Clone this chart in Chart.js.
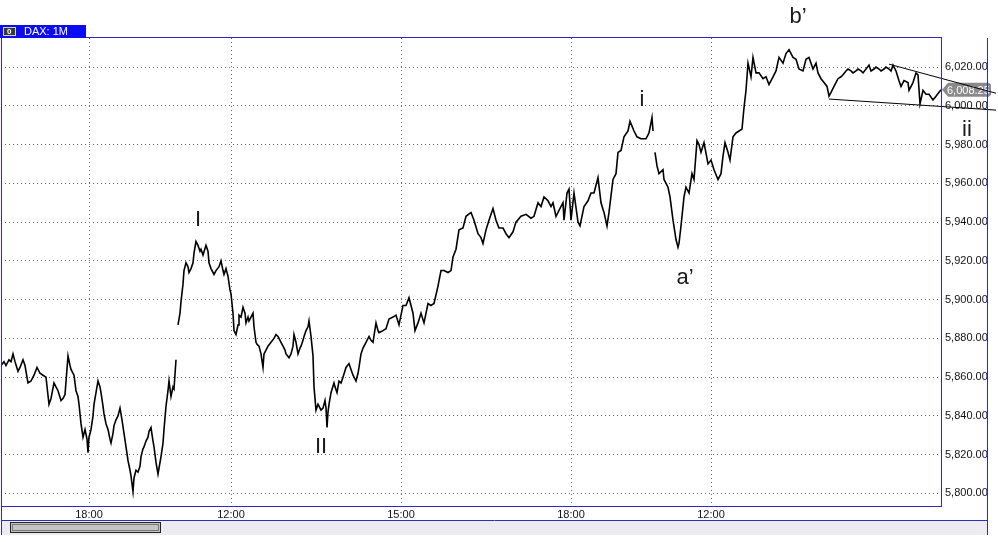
<!DOCTYPE html>
<html>
<head>
<meta charset="utf-8">
<script src="https://cdn.jsdelivr.net/npm/chart.js@4.4.1/dist/chart.umd.min.js"></script>
<style>
  html, body { margin: 0; padding: 0; background: #fff; }
  canvas { display: block; }
</style>
</head>
<body>
<canvas id="daxChart" width="998" height="542"></canvas>
<script>
// bar number (1-minute bars, gaps between sessions are null)
const bars = [
  0, 3, 5, 8, 10, 12, 14, 17, 19, 22,
  24, 27, 30, 33, 36, 39, 42, 45, 48, 50,
  53, 55, 57, 60, 62, 64, 67, 69, 70, 73,
  75, 77, 78, 80, 82, 84, 86, 87, 88, 90,
  92, 93, 95, 97, 99, 100, 102, 103, 105, 107,
  109, 110, 112, 113, 115, 117, 119, 121, 123, 125,
  127, 129, 130, 132, 133, 135, 137, 139, 140, 142,
  143, 145, 147, 148, 150, 152, 153, 155, 157, 158,
  160, 162, 163, 165, 167, 168, 170, 172, 173, 175,
  176, 177, 178, 179, 180, 182, 183, 185, 187, 188,
  190, 192, 193, 195, 197, 199, 200, 202, 205, 207,
  208, 210, 213, 215, 218, 220, 222, 223, 225, 227,
  229, 230, 232, 233, 235, 237, 238, 240, 242, 244,
  245, 247, 248, 250, 252, 253, 255, 256, 258, 260,
  262, 263, 265, 267, 270, 273, 275, 277, 278, 280,
  282, 284, 285, 288, 290, 292, 293, 295, 297, 299,
  300, 302, 303, 305, 307, 308, 310, 312, 313, 315,
  317, 318, 320, 322, 324, 325, 326, 327, 328, 330,
  333, 334, 336, 338, 340, 342, 345, 348, 350, 352,
  355, 357, 358, 360, 362, 365, 368, 370, 372, 375,
  377, 378, 382, 385, 388, 392, 395, 398, 402, 405,
  408, 412, 414, 417, 420, 423, 427, 430, 433, 437,
  440, 443, 447, 450, 452, 455, 458, 462, 465, 470,
  473, 477, 480, 482, 485, 488, 492, 495, 498, 502,
  505, 508, 512, 515, 520, 525, 530, 533, 537, 540,
  543, 547, 550, 552, 555, 558, 562, 563, 566, 568,
  570, 573, 577, 579, 583, 587, 590, 593, 597, 600,
  603, 606, 608, 612, 615, 617, 620, 623, 627, 629,
  633, 636, 640, 645, 648, 651, 652, 653, 654, 656,
  658, 662, 663, 667, 669, 672, 675, 677, 678, 680,
  683, 685, 688, 691, 693, 696, 698, 700, 703, 707,
  710, 713, 717, 720, 722, 724, 727, 729, 732, 735,
  738, 741, 743, 745, 747, 750, 752, 755, 758, 762,
  765, 768, 772, 775, 778, 782, 785, 788, 792, 795,
  798, 802, 805, 808, 812, 815, 817, 820, 823, 826,
  828, 830, 833, 837, 840, 842, 845, 847, 850, 852,
  855, 857, 860, 862, 865, 868, 870, 873, 875, 878,
  880, 883, 885, 888, 890, 892, 895, 898, 900, 903,
  907, 908, 912, 915, 917, 919, 922, 925, 928, 932,
  935, 938, 940
];
const prices = [
  5866, 5868, 5866, 5869, 5868, 5872, 5868, 5863, 5865, 5869,
  5866, 5857, 5858, 5861, 5865, 5862, 5861, 5860, 5846, 5849,
  5857, 5855, 5853, 5848, 5849, 5851, 5871, 5866, 5864, 5861,
  5853, 5850, 5846, 5836, 5829, 5833, 5828, 5821, 5829, 5833,
  5840, 5846, 5852, 5858, 5855, 5852, 5845, 5841, 5836, 5833,
  5828, 5826, 5831, 5835, 5838, 5840, 5844, 5838, 5831, 5824,
  5817, 5812, 5809, 5801, 5808, 5812, 5811, 5814, 5819, 5823,
  5824, 5827, 5829, 5832, 5834, 5827, 5824, 5816, 5810, 5813,
  5819, 5826, 5833, 5845, 5853, 5858, 5850, 5855, 5854, 5869,
  null, 5887, 5890, 5893, 5899, 5908, 5915, 5919, 5917, 5914,
  5916, 5919, 5924, 5930, 5928, 5925, 5926, 5923, 5928, 5925,
  5919, 5916, 5913, 5915, 5917, 5920, 5915, 5913, 5916, 5912,
  5905, 5903, 5893, 5884, 5882, 5887, 5892, 5891, 5896, 5893,
  5888, 5891, 5889, 5891, 5893, 5886, 5878, 5877, 5876, 5872,
  5865, 5872, 5874, 5876, 5878, 5880, 5882, 5881, 5880, 5878,
  5876, 5874, 5872, 5870, 5872, 5876, 5882, 5878, 5872, 5875,
  5876, 5879, 5881, 5884, 5886, 5889, 5881, 5871, 5855, 5843,
  5846, 5845, 5843, 5844, 5848, 5844, 5834, 5842, 5846, 5852,
  5857, 5855, 5852, 5858, 5857, 5860, 5865, 5867, 5864, 5861,
  5858, 5862, 5865, 5872, 5875, 5878, 5881, 5879, 5878, 5888,
  5884, 5883, 5884, 5885, 5890, 5891, 5892, 5887, 5897, 5897,
  5901, 5893, 5884, 5888, 5893, 5888, 5898, 5897, 5898, 5907,
  5915, 5915, 5914, 5915, 5922, 5926, 5936, 5937, 5943, 5945,
  5941, 5934, 5932, 5929, 5936, 5941, 5947, 5941, 5937, 5937,
  5934, 5932, 5935, 5940, 5943, 5944, 5942, 5943, 5950, 5948,
  5953, 5951, 5948, 5950, 5943, 5946, 5950, 5941, 5955, 5957,
  5941, 5955, 5940, 5938, 5948, 5951, 5955, 5955, 5963, 5950,
  5945, 5938, 5945, 5962, 5965, 5976, 5977, 5984, 5987, 5992,
  5987, 5984, 5983, 5983, 5986, 5994, 5987, null, 5976, 5969,
  5965, 5967, 5962, 5958, 5953, 5941, 5931, 5927, 5929, 5938,
  5953, 5958, 5955, 5965, 5962, 5982, 5980, 5976, 5981, 5970,
  5972, 5967, 5962, 5965, 5974, 5981, 5976, 5972, 5984, 5986,
  5987, 5988, 5999, 6008, 6022, 6015, 6025, 6017, 6017, 6014,
  6015, 6011, 6015, 6018, 6025, 6022, 6027, 6029, 6025, 6024,
  6019, 6018, 6024, 6025, 6019, 6022, 6017, 6014, 6012, 6010,
  6005, 6007, 6010, 6014, 6015, 6016, 6018, 6019, 6018, 6017,
  6018, 6019, 6018, 6017, 6019, 6021, 6018, 6019, 6020, 6019,
  6018, 6019, 6020, 6019, 6018, 6021, 6018, 6013, 6010, 6013,
  6012, 6008, 6012, 6017, 6016, 6001, 6008, 6006, 6006, 6003,
  6005, 6007, 6008.25
];
const lastPrice = 6008.25;

// triangle lines drawn on the chart
const upperLineBars = [888, 995];
const upperLinePrices = [6021.5, 6006.5];
const lowerLineBars = [828, 995];
const lowerLinePrices = [6003.5, 5997.8];

// axis ticks
const timeTickBars = [88, 230, 400, 570, 710];
const timeTickLabels = ['18:00', '12:00', '15:00', '18:00', '12:00'];
const priceTicks = [5800, 5820, 5840, 5860, 5880, 5900, 5920, 5940, 5960, 5980, 6000, 6020];

// Elliott wave labels
const waveLabels = ['I', 'II', 'i', 'a\u2019', 'b\u2019', 'ii'];
const waveBars = [197, 320, 641, 684, 797, 966];
const wavePrices = [5941, 5824, 6003, 5911, 6046, 5987.5];

const BLUE = '#2b2bc4';
const FONT = '"Liberation Sans", Arial, sans-serif';

function fmt(v) {
  return v.toLocaleString('en-US', { minimumFractionDigits: 2, maximumFractionDigits: 2 });
}

const chrome = {
  id: 'chrome',
  beforeDraw(chart) {
    const c = chart.ctx;
    c.save();
    c.fillStyle = '#fff';
    c.fillRect(0, 0, chart.width, chart.height);
    // scrollbar strip
    c.fillStyle = '#ecebf0';
    c.fillRect(1, 521, 987, 14);
    c.fillStyle = '#c4c4c4';
    c.fillRect(10, 522, 150, 10);
    c.strokeStyle = '#222';
    c.lineWidth = 1;
    c.strokeRect(10.5, 522.5, 150, 10);
    c.strokeStyle = '#777';
    c.strokeRect(12.5, 524.5, 146, 6);
    c.restore();
  },
  beforeDatasetsDraw(chart) {
    const c = chart.ctx;
    const y = chart.scales.y.getPixelForValue(lastPrice);
    const x0 = chart.chartArea.right + 1;
    c.save();
    c.fillStyle = '#8a8a8a';
    c.beginPath();
    c.moveTo(x0, y);
    c.lineTo(x0 + 6, y - 7);
    c.lineTo(x0 + 47, y - 7);
    c.lineTo(x0 + 49, y - 5);
    c.lineTo(x0 + 49, y + 5);
    c.lineTo(x0 + 47, y + 7);
    c.lineTo(x0 + 6, y + 7);
    c.closePath();
    c.fill();
    c.fillStyle = '#fff';
    c.font = '11px ' + FONT;
    c.textBaseline = 'middle';
    c.fillText(fmt(lastPrice), x0 + 5, y + 1);
    c.restore();
  },
  afterDraw(chart) {
    const c = chart.ctx;
    const a = chart.chartArea;
    const xs = chart.scales.x, ys = chart.scales.y;
    c.save();
    // frame lines
    c.strokeStyle = BLUE;
    c.lineWidth = 1;
    c.strokeRect(a.left + 0.5, a.top - 0.5, a.right - a.left, a.bottom - a.top);
    c.beginPath();
    c.moveTo(1, 520.5); c.lineTo(988, 520.5);
    c.moveTo(987.5, 38); c.lineTo(987.5, 535);
    c.moveTo(1.5, 38); c.lineTo(1.5, 535);
    c.stroke();
    // header tab
    c.fillStyle = '#0c0cf2';
    c.fillRect(0, 25, 86, 13);
    c.fillStyle = '#3a3a3a';
    c.fillRect(3, 27, 13, 9);
    c.strokeStyle = '#d0d0d0';
    c.strokeRect(3.5, 27.5, 12, 8);
    c.fillStyle = '#fff';
    c.font = 'bold 8px ' + FONT;
    c.textBaseline = 'middle';
    c.fillText('0', 7, 32);
    c.font = '11px ' + FONT;
    c.fillText('DAX: 1M', 24, 32);
    // wave labels
    c.fillStyle = '#1a1a1a';
    c.font = '22px ' + FONT;
    c.textAlign = 'center';
    c.textBaseline = 'middle';
    waveLabels.forEach((t, i) => {
      c.fillText(t, xs.getPixelForValue(waveBars[i]), ys.getPixelForValue(wavePrices[i]));
    });
    c.restore();
  }
};

const ctx = document.getElementById('daxChart').getContext('2d');
new Chart(ctx, {
  type: 'line',
  data: {
    datasets: [
      {
        data: bars.map((b, i) => ({ x: b, y: prices[i] })),
        borderColor: '#000',
        borderWidth: 1.6,
        pointRadius: 0,
        tension: 0,
        spanGaps: false
      },
      {
        data: upperLineBars.map((b, i) => ({ x: b, y: upperLinePrices[i] })),
        borderColor: '#000',
        borderWidth: 1,
        pointRadius: 0,
        clip: false
      },
      {
        data: lowerLineBars.map((b, i) => ({ x: b, y: lowerLinePrices[i] })),
        borderColor: '#000',
        borderWidth: 1,
        pointRadius: 0,
        clip: false
      }
    ]
  },
  options: {
    responsive: false,
    animation: false,
    devicePixelRatio: 1,
    layout: { padding: { top: 38, left: 1, right: 11, bottom: 21 } },
    plugins: { legend: { display: false }, tooltip: { enabled: false } },
    scales: {
      x: {
        type: 'linear',
        min: 0,
        max: 940,
        afterFit(s) { s.height = 14; },
        afterBuildTicks(s) { s.ticks = timeTickBars.map(v => ({ value: v })); },
        ticks: {
          padding: 1,
          maxRotation: 0,
          autoSkip: false,
          color: '#111',
          font: { family: FONT, size: 11 },
          callback: (v) => timeTickLabels[timeTickBars.indexOf(v)]
        },
        grid: { color: '#666', lineWidth: 1, drawTicks: false },
        border: { display: false, dash: [1, 3] }
      },
      y: {
        position: 'right',
        min: 5793,
        max: 6035,
        afterFit(s) { s.width = 46; },
        afterBuildTicks(s) { s.ticks = priceTicks.map(v => ({ value: v })); },
        ticks: {
          padding: 4,
          color: '#111',
          font: { family: FONT, size: 11 },
          callback: (v) => fmt(v)
        },
        grid: { color: '#666', lineWidth: 1, drawTicks: false },
        border: { display: false, dash: [1, 3] }
      }
    }
  },
  plugins: [chrome]
});
</script>
</body>
</html>
